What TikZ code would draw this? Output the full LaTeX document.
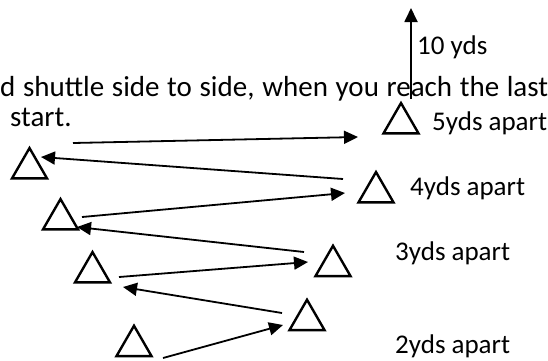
\documentclass[tikz,border=0pt]{standalone}
\usepackage{fontspec}
\setmainfont{Carlito}
\usetikzlibrary{arrows.meta,shapes.geometric}
\begin{document}
\begin{tikzpicture}[x=1pt,y=-1pt,
  cone/.style={draw, line width=2.4pt, regular polygon, regular polygon sides=3,
    minimum size=40.5pt, inner sep=0pt, outer sep=0pt},
  run/.style={line width=1.8pt, -{Triangle[length=14pt,width=13pt]}},
  lbl/.style={anchor=base west, inner sep=0pt, font=\fontsize{27}{32}\selectfont},
  body/.style={anchor=base west, inner sep=0pt, font=\fontsize{29}{35}\selectfont}]
\useasboundingbox (0,0) rectangle (548,360);
% text
\node[body] (line1) at (0,96) {\makebox[548pt][s]{d shuttle side to side, when you reach the last}};
\node[body] (line2) at (10,126) {start.};
% cones
\node[cone] (A) at (29.5,168.3) {};
\node[cone] (B) at (60.5,219.3) {};
\node[cone] (C) at (92.5,272.3) {};
\node[cone] (D) at (134,346) {};
\node[cone] (E) at (307,320) {};
\node[cone] (F) at (333,266) {};
\node[cone] (G) at (376,192.3) {};
\node[cone] (T) at (401,123.3) {};
% labels
\node[lbl] (l10) at (417,54) {10 yds};
\node[lbl] (l5) at (432,130) {5yds apart};
\node[lbl] (l4) at (410,195) {4yds apart};
\node[lbl] (l3) at (395,260) {3yds apart};
\node[lbl] (l2) at (395,353) {2yds apart};
% arrow end points
\coordinate (a1s) at (73,143);  \coordinate (a1e) at (358,137);
\coordinate (a2s) at (343,179); \coordinate (a2e) at (41,157);
\coordinate (a3s) at (82,217);  \coordinate (a3e) at (345,193);
\coordinate (a4s) at (304,252); \coordinate (a4e) at (77,227);
\coordinate (a5s) at (119,277); \coordinate (a5e) at (308,262);
\coordinate (a6s) at (282,313); \coordinate (a6e) at (123,287);
\coordinate (a7s) at (163,358); \coordinate (a7e) at (283,325);
\coordinate (ups) at (411,99);  \coordinate (upe) at (411,8);
\draw[run] (a1s) -- (a1e);
\draw[run] (a2s) -- (a2e);
\draw[run] (a3s) -- (a3e);
\draw[run] (a4s) -- (a4e);
\draw[run] (a5s) -- (a5e);
\draw[run] (a6s) -- (a6e);
\draw[run] (a7s) -- (a7e);
\draw[run] (ups) -- (upe);
\end{tikzpicture}
\end{document}
